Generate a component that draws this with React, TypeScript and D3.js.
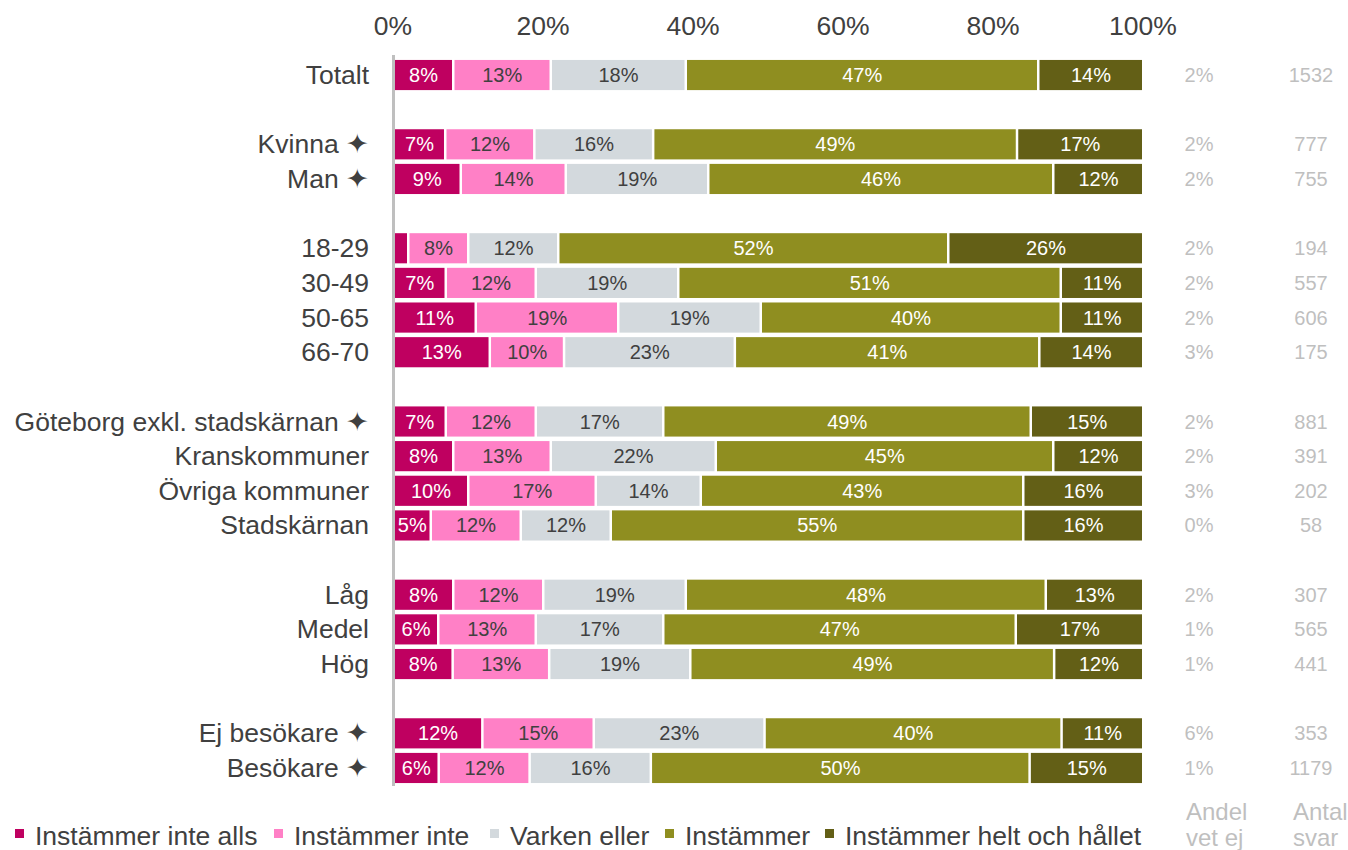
import React from 'react'
import * as d3 from 'd3'

// rows in display order, '_n' marks an empty spacer slot between groups
const slots = ['Totalt', '_1', 'Kvinna ✦', 'Man ✦', '_2', '18-29', '30-49', '50-65', '66-70', '_3',
  'Göteborg exkl. stadskärnan ✦', 'Kranskommuner', 'Övriga kommuner', 'Stadskärnan', '_4',
  'Låg', 'Medel', 'Hög', '_5', 'Ej besökare ✦', 'Besökare ✦']
const categories = slots.filter(s => !s.startsWith('_'))

const seriesNames = ['Instämmer inte alls', 'Instämmer inte', 'Varken eller', 'Instämmer', 'Instämmer helt och hållet']
const inteAlls = [8, 7, 9, 2, 7, 11, 13, 7, 8, 10, 5, 8, 6, 8, 12, 6]
const inte = [13, 12, 14, 8, 12, 19, 10, 12, 13, 17, 12, 12, 13, 13, 15, 12]
const varken = [18, 16, 19, 12, 19, 19, 23, 17, 22, 14, 12, 19, 17, 19, 23, 16]
const instammer = [47, 49, 46, 52, 51, 40, 41, 49, 45, 43, 55, 48, 47, 49, 40, 50]
const helt = [14, 17, 12, 26, 11, 11, 14, 15, 12, 16, 16, 13, 17, 12, 11, 15]
const vetEj = [2, 2, 2, 2, 2, 2, 3, 2, 2, 3, 0, 2, 1, 1, 6, 1]
const antal = [1532, 777, 755, 194, 557, 606, 175, 881, 391, 202, 58, 307, 565, 441, 353, 1179]
const ticks = [0, 0.2, 0.4, 0.6, 0.8, 1]

const colors = ['#BF0060', '#FF80C6', '#D3D9DD', '#8F8E20', '#635F16']
const labelColors = ['#fff', '#404040', '#404040', '#fff', '#fff']
const font = '"Liberation Sans", Arial, sans-serif'

export default function App () {
  const width = 1348
  const height = 850
  const seriesValues = [inteAlls, inte, varken, instammer, helt]
  const table = categories.map((c, i) => {
    const row: any = {cat: c}
    seriesNames.forEach((s, j) => { row[s] = seriesValues[j][i] })
    return row
  })
  const stacked = d3.stack().keys(seriesNames).offset(d3.stackOffsetExpand)(table)

  const x = d3.scaleLinear().domain([0, 1]).range([393, 1143])
  const y = d3.scaleBand().domain(slots).range([57.7, 785.3]).paddingInner(0.13).paddingOuter(0.065)
  const bh = y.bandwidth()

  const legendX = [13, 272, 488, 663, 823]

  return (
    <svg width={width} height={height} style={{position: 'absolute', left: 0, top: 0, fontFamily: font}}>
      <rect width={width} height={height} fill='#fff' />
      {ticks.map(t => (
        <text key={t} x={x(t)} y={35} textAnchor='middle' fontSize={26.5} fill='#404040'>{d3.format('.0%')(t)}</text>
      ))}
      {categories.map(c => (
        <text key={c} x={369} y={y(c)! + bh / 2 + 9} textAnchor='end' fontSize={26.5} fill='#404040'>{c}</text>
      ))}
      {stacked.map((layer, j) => (
        <g key={layer.key}>
          {layer.map((d, i) => {
            const x0 = x(d[0])
            const x1 = x(d[1])
            const yy = y(categories[i])!
            const v = seriesValues[j][i]
            return (
              <g key={i}>
                <rect x={x0 + 1.5} y={yy} width={Math.max(0, x1 - x0 - 2.5)} height={bh} fill={colors[j]} />
                {v >= 4 && (
                  <text x={(x0 + x1) / 2 + 0.5} y={yy + bh / 2 + 7} textAnchor='middle' fontSize={20} fill={labelColors[j]}>{v}%</text>
                )}
              </g>
            )
          })}
        </g>
      ))}
      <line x1={x(0) + 0.5} x2={x(0) + 0.5} y1={55} y2={786} stroke='#BFBFBF' strokeWidth={3} />
      {categories.map((c, i) => (
        <g key={c} fontSize={20} fill='#BFBFBF' textAnchor='middle'>
          <text x={1199} y={y(c)! + bh / 2 + 7}>{vetEj[i]}%</text>
          <text x={1311} y={y(c)! + bh / 2 + 7}>{antal[i]}</text>
        </g>
      ))}
      <g fontSize={24} fill='#BFBFBF'>
        <text x={1186} y={820}>Andel</text>
        <text x={1186} y={846}>vet ej</text>
        <text x={1293} y={820}>Antal</text>
        <text x={1293} y={846}>svar</text>
      </g>
      {seriesNames.map((s, j) => (
        <g key={s}>
          <rect x={legendX[j] + 2} y={829} width={9} height={9} fill={colors[j]} />
          <text x={legendX[j] + 22} y={845} fontSize={26.5} fill='#404040'>{s}</text>
        </g>
      ))}
    </svg>
  )
}
